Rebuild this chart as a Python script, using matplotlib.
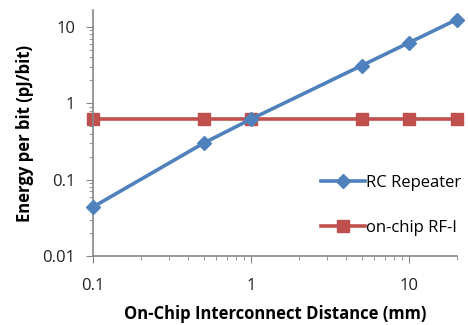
import matplotlib
matplotlib.use("Agg")
import matplotlib.pyplot as plt
from matplotlib.ticker import LogLocator, NullFormatter, FixedLocator, FixedFormatter

plt.rcParams['font.family'] = ['Open Sans', 'DejaVu Sans']

distance = [0.1, 0.5, 1, 5, 10, 20]
rc_repeater = [0.044, 0.30, 0.62, 3.1, 6.2, 12.4]
rf_i = [0.62, 0.62, 0.62, 0.62, 0.62, 0.62]

x_ticks = [0.1, 1, 10]
x_labels = ['0.1', '1', '10']
y_ticks = [0.01, 0.1, 1, 10]
y_labels = ['0.01', '0.1', '1', '10']

blue = '#4F81BD'
red = '#C0504D'
gray = '#878787'

fig = plt.figure(figsize=(4.68, 3.25), dpi=100)
ax = fig.add_axes([0.199, 0.212, 0.777, 0.757])

ax.plot(distance, rc_repeater, color=blue, lw=2.6, marker='D', ms=7,
        label='RC Repeater', zorder=3, clip_on=False)
ax.plot(distance, rf_i, color=red, lw=2.6, marker='s', ms=9,
        label='on-chip RF-I', zorder=2, clip_on=False)

ax.set_xscale('log')
ax.set_yscale('log')
ax.set_xlim(0.1, 20)
ax.set_ylim(0.01, 16.5)

ax.xaxis.set_major_locator(FixedLocator(x_ticks))
ax.xaxis.set_major_formatter(FixedFormatter(x_labels))
ax.yaxis.set_major_locator(FixedLocator(y_ticks))
ax.yaxis.set_major_formatter(FixedFormatter(y_labels))
ax.xaxis.set_minor_locator(LogLocator(base=10, subs=range(2, 10)))
ax.yaxis.set_minor_locator(LogLocator(base=10, subs=range(2, 10)))
ax.xaxis.set_minor_formatter(NullFormatter())
ax.yaxis.set_minor_formatter(NullFormatter())

for s in ['top', 'right']:
    ax.spines[s].set_visible(False)
for s in ['left', 'bottom']:
    ax.spines[s].set_color(gray)
    ax.spines[s].set_linewidth(1.2)

ax.tick_params(which='major', direction='out', length=5, color=gray,
               labelsize=12, labelcolor='#222222')
ax.tick_params(axis='x', which='major', pad=11)
ax.tick_params(axis='y', which='major', pad=8)
ax.tick_params(which='minor', direction='out', length=3, color=gray)

ax.set_xlabel('On-Chip Interconnect Distance (mm)', fontsize=12,
              fontweight='bold', labelpad=8)
ax.set_ylabel('Energy per bit (pJ/bit)', fontsize=12, fontweight='bold',
              labelpad=6)

ax.legend(loc='lower right', bbox_to_anchor=(1.04, 0.04), frameon=False,
          fontsize=12, handlelength=2.6, labelspacing=1.75,
          handletextpad=0.1, borderaxespad=0.2)

fig.savefig('out.png', dpi=100)
